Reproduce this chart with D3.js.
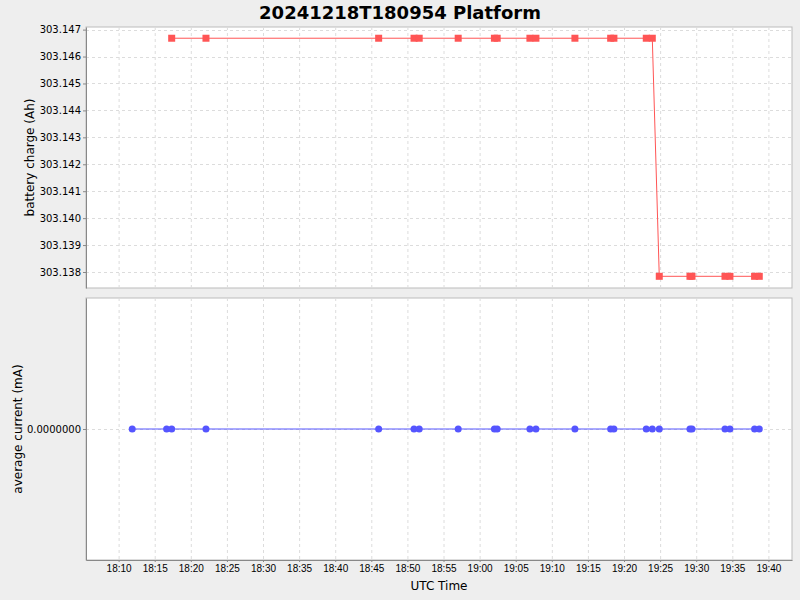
<!DOCTYPE html>
<html lang="en">
<head>
<meta charset="UTF-8">
<title>20241218T180954 Platform</title>
<script src="https://d3js.org/d3.v7.min.js"></script>
<style>
    body { margin: 0; background: #eeeeee; }
    svg { display: block; font-family: "DejaVu Sans", sans-serif; }
    .tick text { font-size: 10px; fill: #000; }
    .axis-label { font-size: 12px; fill: #000; }
    .grid line { stroke: #dcdcdc; stroke-dasharray: 3,3; }
</style>
</head>
<body>
<svg width="800" height="600"></svg>
<script>
    const day = "2024-12-18";

    // battery charge samples (UTC time, Ah)
    const chargeTimes = ["18:17:21", "18:22:06", "18:46:01", "18:50:55", "18:51:38", "18:57:02",
        "19:02:03", "19:02:26", "19:06:58", "19:07:48", "19:13:12", "19:18:09", "19:18:36",
        "19:23:05", "19:23:55", "19:24:53", "19:29:08", "19:29:25", "19:33:59", "19:34:40",
        "19:38:05", "19:38:44"];
    const chargeValues = [303.14668, 303.14668, 303.14668, 303.14668, 303.14668, 303.14668,
        303.14668, 303.14668, 303.14668, 303.14668, 303.14668, 303.14668, 303.14668,
        303.14668, 303.14668, 303.13784, 303.13784, 303.13784, 303.13784, 303.13784,
        303.13784, 303.13784];

    // average current samples (UTC time, mA)
    const currentTimes = ["18:11:53", "18:16:39", "18:17:21", "18:22:06", "18:46:01", "18:50:55",
        "18:51:38", "18:57:02", "19:02:03", "19:02:26", "19:06:58", "19:07:48", "19:13:12",
        "19:18:09", "19:18:36", "19:23:05", "19:23:55", "19:24:53", "19:29:08", "19:29:25",
        "19:33:59", "19:34:40", "19:38:05", "19:38:44"];
    const currentValues = currentTimes.map(() => 0);

    const chargeTicks = [303.138, 303.139, 303.140, 303.141, 303.142, 303.143, 303.144, 303.145, 303.146, 303.147];
    const currentTicks = [0];

    const parseTime = d3.utcParse("%Y-%m-%d %H:%M:%S");
    const toDate = t => parseTime(day + " " + t);

    const svg = d3.select("svg");
    const left = 86, right = 792;
    const top1 = 27, bottom1 = 288;
    const top2 = 298, bottom2 = 560;

    const x = d3.scaleUtc()
        .domain([toDate("18:05:29"), toDate("19:43:16")])
        .range([left, right]);

    const y1 = d3.scaleLinear()
        .domain([303.137406, 303.147097])
        .range([bottom1, top1]);

    const y2 = d3.scaleLinear()
        .domain([-1, 1])
        .range([bottom2, top2]);

    const xTicks = x.ticks(d3.utcMinute.every(5));

    function panel(y, yTop, yBottom, yTicks, fmt, label, labelX) {
        const g = svg.append("g");
        g.append("rect")
            .attr("x", left).attr("y", yTop)
            .attr("width", right - left).attr("height", yBottom - yTop)
            .attr("fill", "#fff").attr("stroke", "#bbbbbb");

        const grid = g.append("g").attr("class", "grid");
        grid.selectAll(".v").data(xTicks).join("line")
            .attr("x1", d => x(d) + 0.5).attr("x2", d => x(d) + 0.5)
            .attr("y1", yTop).attr("y2", yBottom);
        grid.selectAll(".h").data(yTicks).join("line")
            .attr("x1", left).attr("x2", right)
            .attr("y1", d => Math.round(y(d)) + 0.5).attr("y2", d => Math.round(y(d)) + 0.5);

        const yAxis = d3.axisLeft(y).tickValues(yTicks).tickFormat(fmt)
            .tickSizeInner(3).tickSizeOuter(0).tickPadding(2);
        g.append("g")
            .attr("transform", `translate(${left},0)`)
            .call(yAxis)
            .call(a => a.select(".domain").attr("stroke", "#888"))
            .call(a => a.selectAll(".tick line").attr("stroke", "#888"))
            .call(a => a.selectAll(".tick text").style("font-family", "DejaVu Sans"));

        g.append("text")
            .attr("class", "axis-label")
            .attr("transform", `translate(${labelX},${(yTop + yBottom) / 2}) rotate(-90)`)
            .attr("text-anchor", "middle")
            .text(label);
        return g;
    }

    panel(y1, top1, bottom1, chargeTicks, d3.format(".3f"), "battery charge (Ah)", 34);
    panel(y2, top2, bottom2, currentTicks, d3.format(".7f"), "average current (mA)", 22);

    // x axis on lower panel
    svg.append("g")
        .attr("transform", `translate(0,${bottom2})`)
        .call(d3.axisBottom(x).tickValues(xTicks).tickFormat(d3.utcFormat("%H:%M"))
            .tickSizeInner(2).tickSizeOuter(0).tickPadding(3))
        .call(a => a.select(".domain").attr("stroke", "#888"))
        .call(a => a.selectAll(".tick line").attr("stroke", "#888"));

    svg.append("text")
        .attr("class", "axis-label")
        .attr("x", (left + right) / 2).attr("y", 590)
        .attr("text-anchor", "middle")
        .text("UTC Time");

    // battery charge series
    const charge = chargeTimes.map((t, i) => ({ t: toDate(t), v: chargeValues[i] }));
    svg.append("path")
        .datum(charge)
        .attr("fill", "none").attr("stroke", "#ff5555").attr("stroke-width", 1)
        .attr("d", d3.line().x(d => x(d.t)).y(d => y1(d.v)));
    svg.append("g").selectAll("rect").data(charge).join("rect")
        .attr("x", d => x(d.t) - 3.5).attr("y", d => y1(d.v) - 3.5)
        .attr("width", 7).attr("height", 7)
        .attr("fill", "#ff5555");

    // average current series
    const current = currentTimes.map((t, i) => ({ t: toDate(t), v: currentValues[i] }));
    svg.append("path")
        .datum(current)
        .attr("fill", "none").attr("stroke", "#5555ff").attr("stroke-width", 1)
        .attr("d", d3.line().x(d => x(d.t)).y(d => y2(d.v)));
    svg.append("g").selectAll("circle").data(current).join("circle")
        .attr("cx", d => x(d.t)).attr("cy", d => y2(d.v))
        .attr("r", 3.5)
        .attr("fill", "#5555ff");

    svg.append("text")
        .attr("x", 400).attr("y", 19)
        .attr("text-anchor", "middle")
        .style("font-size", "18px").style("font-weight", "bold")
        .text("20241218T180954 Platform");
</script>
</body>
</html>
